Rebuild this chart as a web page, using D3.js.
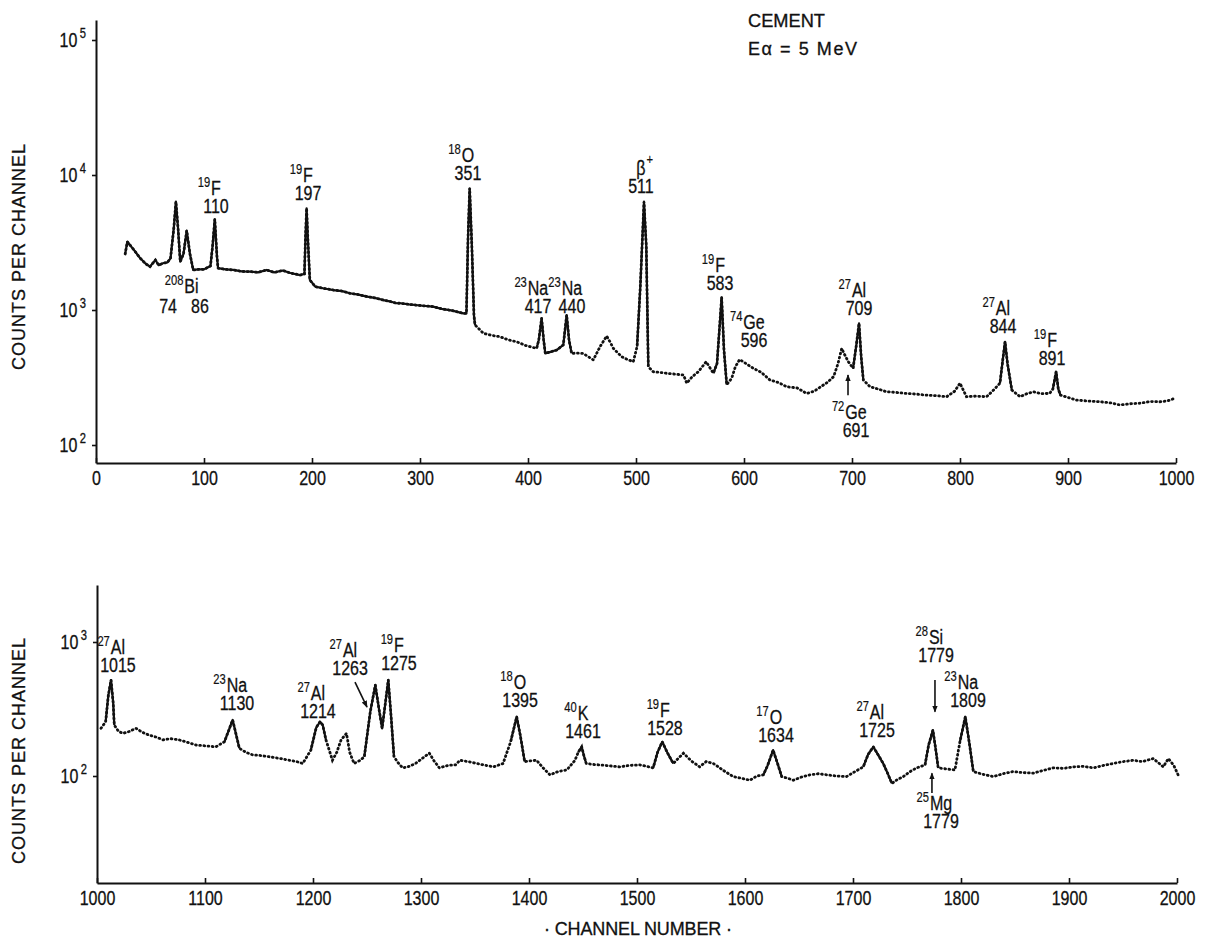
<!DOCTYPE html>
<html>
<head>
<meta charset="utf-8">
<script src="https://cdn.jsdelivr.net/npm/d3@7/dist/d3.min.js"></script>
<style>
  body { margin: 0; background: #fff; }
  svg { display: block; }
  .lbl { font-family: "Liberation Sans", "DejaVu Sans", sans-serif; font-size: 20px; fill: #111; stroke: #111; stroke-width: 0.3; }
  .sup { font-family: "Liberation Sans", "DejaVu Sans", sans-serif; font-size: 14px; fill: #111; stroke: #111; stroke-width: 0.2; }
  .title { font-family: "Liberation Sans", "DejaVu Sans", sans-serif; font-size: 18px; fill: #111; stroke: #111; stroke-width: 0.3; }
</style>
</head>
<body>
<script>
// Gamma spectrum of cement, E_alpha = 5 MeV

// upper panel: channel / counts per channel
const topChannels = [27, 29, 34, 41, 46, 50, 55, 58, 62, 66, 69, 72, 74, 76, 78, 81, 84, 87, 90, 95,
  100, 106, 108, 110, 112, 113, 120, 127, 135, 143, 150, 158, 165, 173, 180, 189, 193, 194, 195, 196,
  198, 203, 210, 220, 228, 235, 243, 251, 258, 266, 272, 278, 282, 290, 300, 312, 320, 330, 340, 343,
  344.5, 346, 348, 350, 351, 358.6, 366, 374, 382, 389.5, 398, 408, 410, 412.6, 414.5, 416, 421, 426.5, 432.7, 435.8,
  438, 440.4, 446, 451, 456, 460.5, 466.7, 472.8, 476, 479, 486.7, 492, 497.5, 501, 504, 507.4, 509.5, 511.4, 516, 522,
  528, 536, 544, 547, 552, 557.7, 565, 571.6, 575, 579.3, 581.5, 584, 588.6, 592, 596, 602, 608.6, 616, 624, 632,
  639.5, 649, 658, 665, 671, 677, 683, 687, 690.5, 693, 696.6, 701, 704, 706.5, 708.5, 710.5, 716.7, 724, 732, 741,
  750.6, 760, 769, 778, 787.7, 795, 800, 806, 815, 824.7, 831, 837, 839.5, 841.7, 844, 848, 855.6, 862, 868, 875,
  883, 886, 889, 891, 893, 900, 908, 918, 930, 940, 948, 958, 967, 976, 985, 992, 999];
const topCounts = [2600, 3200, 2860, 2415, 2200, 2095, 2345, 2150, 2220, 2250, 2415, 4000, 6340, 4000, 2280, 2600, 3870, 2600, 1980, 2000,
  2000, 2120, 3000, 4700, 2500, 2040, 2000, 1980, 1930, 1925, 1900, 1980, 1900, 1960, 1880, 1815, 1850, 3500, 5660, 3600,
  1670, 1490, 1450, 1405, 1380, 1330, 1300, 1257, 1230, 1185, 1160, 1122, 1122, 1100, 1080, 1060, 1020, 990, 944, 944,
  3500, 7960, 3000, 900, 774, 672, 650, 634, 600, 582, 545, 520, 600, 867, 600, 477, 490, 505, 551, 918,
  600, 477, 480, 477, 450, 427, 535, 641, 580, 520, 451, 430, 414, 535, 1500, 6340, 3000, 380, 349, 345,
  340, 335, 330, 287, 320, 349, 414, 340, 400, 1240, 500, 280, 312, 380, 430, 400, 370, 345, 303, 290,
  270, 265, 241, 250, 270, 290, 321, 400, 520, 470, 414, 370, 550, 796, 450, 303, 270, 260, 248, 245,
  241, 238, 234, 232, 228, 250, 287, 228, 230, 228, 255, 287, 420, 582, 400, 255, 228, 240, 248, 240,
  241, 260, 349, 260, 234, 225, 215, 212, 209, 205, 198, 202, 204, 210, 209, 212, 222];
// stretches drawn as a full line (the rest is a dotted trace)
const topSolid = [[27, 352], [406, 442], [500, 512], [570, 586], [700, 712], [836, 849], [885, 893]];

// lower panel
const botChannels = [1003.7, 1008, 1010.5, 1013, 1015, 1016, 1020, 1024, 1030, 1036, 1042, 1048, 1055, 1061, 1068, 1076, 1084, 1092, 1100, 1110,
  1118, 1125.6, 1131.8, 1138, 1144, 1152, 1160, 1170, 1178, 1185, 1190.5, 1198, 1203, 1206.5, 1209, 1212, 1218, 1222, 1226, 1231,
  1234, 1238, 1243, 1247.5, 1253, 1257.7, 1261, 1264, 1267, 1269.7, 1272, 1275, 1279, 1283, 1289, 1295, 1301, 1307.7, 1312, 1317,
  1325, 1332, 1336, 1344, 1351.6, 1360, 1367, 1376, 1383, 1388.6, 1392, 1396, 1402, 1407, 1413, 1419.4, 1427, 1435, 1442.6, 1445.5,
  1448.8, 1451, 1453, 1459, 1465.7, 1475, 1484, 1493, 1502.8, 1509, 1515, 1519, 1523.4, 1528, 1533.6, 1538, 1543, 1550, 1558, 1564,
  1570.7, 1580, 1589, 1597, 1604.6, 1611, 1617, 1621, 1626, 1630, 1634, 1640, 1644.7, 1652, 1660, 1668, 1675.6, 1685, 1694, 1702,
  1709.5, 1714, 1718.8, 1723, 1728, 1732, 1736, 1741, 1746.6, 1753, 1759, 1766.7, 1770, 1774, 1776.5, 1778.9, 1786, 1794.4, 1799, 1804,
  1808, 1811.4, 1820, 1830, 1839, 1848.4, 1857, 1867, 1876, 1885.5, 1895, 1904, 1913, 1922.5, 1932, 1941, 1950, 1959.5, 1968, 1978,
  1987.3, 1992, 1997, 2001];
const botCounts = [227, 254, 400, 520, 350, 240, 215, 208, 215, 227, 212, 202, 195, 186, 190, 186, 178, 170, 168, 165,
  180, 262, 161, 150, 144, 142, 139, 135, 131, 128, 124, 156, 230, 254, 240, 186, 131, 150, 186, 208,
  150, 124, 130, 139, 300, 477, 320, 227, 350, 520, 300, 139, 125, 115, 118, 124, 135, 148, 130, 115,
  120, 121, 131, 128, 124, 120, 117, 124, 180, 277, 200, 128, 130, 131, 115, 102, 108, 111, 131, 150,
  165, 140, 124, 122, 121, 119, 117, 120, 121, 118, 115, 150, 180, 150, 124, 135, 148, 130, 117, 128,
  124, 110, 99, 96, 93, 100, 102, 120, 156, 125, 99, 96, 93, 98, 102, 104, 102, 100, 99, 108,
  117, 145, 165, 145, 124, 105, 88, 94, 99, 108, 115, 121, 170, 220, 160, 115, 113, 111, 180, 277,
  170, 108, 103, 99, 104, 108, 106, 105, 110, 115, 114, 117, 118, 115, 120, 124, 128, 131, 128, 135,
  117, 135, 120, 102];
const botSolid = [[1005, 1017], [1116, 1133], [1197, 1214], [1246, 1277], [1381, 1397], [1443, 1454],
  [1514, 1535], [1616, 1635], [1708, 1737], [1765, 1780], [1795, 1812]];

// peak labels: [mass number, element, energy text, channel, counts] (channel/counts = energy text position)
const topLabels = [
  ["208", "Bi", "", 88.4, 984], ["", "", "74", 66.7, 950], ["", "", "86", 96.3, 950],
  ["19", "F", "110", 111.1, 5230], ["19", "F", "197", 196.3, 6540], ["18", "O", "351", 344.4, 9180],
  ["", "\u03b2", "511", 504.6, 7360], ["23", "Na", "417", 409.3, 950], ["23", "Na", "440", 440.7, 950],
  ["19", "F", "583", 577.8, 1406], ["74", "Ge", "596", 609.3, 532], ["27", "Al", "709", 706.5, 918],
  ["72", "Ge", "691", 703.7, 115], ["27", "Al", "844", 839.8, 676], ["19", "F", "891", 885.2, 392]
];
const botLabels = [
  ["27", "Al", "1015", 1019.4, 597], ["23", "Na", "1130", 1129.6, 311], ["27", "Al", "1214", 1204.6, 271],
  ["27", "Al", "1263", 1234.3, 568], ["19", "F", "1275", 1279.6, 618], ["18", "O", "1395", 1391.7, 327],
  ["40", "K", "1461", 1450, 192], ["19", "F", "1528", 1525.9, 202], ["17", "O", "1634", 1628.7, 180],
  ["27", "Al", "1725", 1722.2, 195], ["28", "Si", "1779", 1776.9, 709], ["23", "Na", "1809", 1806.5, 327],
  ["25", "Mg", "1779", 1781.5, 41]
];
// arrows: [channel from, counts from, channel to, counts to]
const topArrows = [[696.3, 234, 696.3, 330]];
const botArrows = [[1238.9, 502, 1250, 327], [1775.9, 520, 1775.9, 301], [1773.1, 74.7, 1773.1, 105]];

const topXTicks = [0, 100, 200, 300, 400, 500, 600, 700, 800, 900, 1000];
const botXTicks = [1000, 1100, 1200, 1300, 1400, 1500, 1600, 1700, 1800, 1900, 2000];
const topYTicks = [1e2, 1e3, 1e4, 1e5];
const botYTicks = [1e2, 1e3];

const width = 1208, height = 940;
const SX = 0.8; // the figure's lettering is condensed
const svg = d3.select('body').append('svg').attr('width', width).attr('height', height);

svg.append('defs').append('marker')
  .attr('id', 'arrowhead')
  .attr('viewBox', '0 -5 10 10')
  .attr('refX', 9).attr('refY', 0)
  .attr('markerWidth', 7).attr('markerHeight', 8)
  .attr('markerUnits', 'userSpaceOnUse')
  .attr('orient', 'auto')
  .append('path').attr('d', 'M0,-4L10,0L0,4Z').attr('fill', '#111');

// condensed text placed at (x, y)
function narrowText(g, x, y, str, cls, anchor) {
  return g.append('text').attr('class', cls)
    .attr('transform', `translate(${x},${y}) scale(${SX},1)`)
    .attr('text-anchor', anchor || 'middle')
    .text(str);
}

function drawPanel(p) {
  const g = svg.append('g');
  const x = p.x, y = p.y;

  // axes
  const xAxis = g.append('g').attr('transform', `translate(0,${y.range()[0]})`)
    .call(d3.axisBottom(x).tickValues(p.xTicks).tickFormat(d3.format('d')).tickSize(-5).tickSizeOuter(0).tickPadding(8));
  xAxis.selectAll('.tick text')
    .attr('class', 'lbl').attr('fill', null)
    .attr('transform', `scale(${SX},1)`);

  const yAxis = g.append('g').attr('transform', `translate(${x.range()[0]},0)`)
    .call(d3.axisLeft(y).tickValues(p.yTicks).tickSize(4).tickSizeOuter(0).tickPadding(6).tickFormat(''));
  yAxis.selectAll('.tick text').each(function (d) {
    const t = d3.select(this).attr('class', 'lbl').attr('fill', null)
      .attr('x', -10 / SX).attr('transform', `scale(${SX},1)`);
    t.text('10');
    t.append('tspan').attr('dx', 3).attr('dy', -9).attr('font-size', 14).text(Math.round(Math.log10(d)));
  });
  g.selectAll('g').attr('font-family', null).attr('font-size', null);
  g.selectAll('.domain').attr('stroke', '#111').attr('stroke-width', 2);
  g.selectAll('.tick line').attr('stroke', '#111').attr('stroke-width', 1.6);

  const pts = p.ch.map((c, i) => [c, p.counts[i]]);
  const line = d3.line().x(d => x(d[0])).y(d => y(d[1]));

  // dotted trace of the whole spectrum
  g.append('path').datum(pts).attr('d', line)
    .attr('fill', 'none').attr('stroke', '#111').attr('stroke-width', 2.8)
    .attr('stroke-linecap', 'round').attr('stroke-dasharray', '0.8 3.4');

  // solid stretches
  p.solid.forEach(r => {
    const seg = pts.filter(d => d[0] >= r[0] && d[0] <= r[1]);
    g.append('path').datum(seg).attr('d', line)
      .attr('fill', 'none').attr('stroke', '#111').attr('stroke-width', 2.2)
      .attr('stroke-linejoin', 'round');
  });

  // peak labels
  p.labels.forEach(l => {
    const [iso, el, num, c, v] = l;
    const cx = x(c), by = y(v);
    if (num) narrowText(g, cx, by, num, 'lbl');
    if (el) {
      const t = narrowText(g, cx, by - 18, el, 'lbl');
      const w = t.node().getComputedTextLength() * SX;
      if (iso) narrowText(g, cx - w / 2 - 1, by - 26, iso, 'sup', 'end');
      if (el === '\u03b2') narrowText(g, cx + w / 2 + 1, by - 29, '+', 'sup', 'start');
    }
  });

  p.arrows.forEach(a => {
    g.append('line')
      .attr('x1', x(a[0])).attr('y1', y(a[1]))
      .attr('x2', x(a[2])).attr('y2', y(a[3]))
      .attr('stroke', '#111').attr('stroke-width', 1.6)
      .attr('marker-end', 'url(#arrowhead)');
  });

  // axis title
  g.append('text').attr('class', 'title')
    .attr('transform', `translate(25,${p.yLabelMid}) rotate(-90)`)
    .attr('text-anchor', 'middle')
    .attr('textLength', 226).attr('lengthAdjust', 'spacing')
    .text('COUNTS PER CHANNEL');
}

drawPanel({
  x: d3.scaleLinear().domain([0, 1000]).range([96, 1176]),
  y: d3.scaleLog().domain([Math.pow(10, 2 - 18 / 135), Math.pow(10, 5 + 20 / 135)]).range([463, 20]),
  ch: topChannels, counts: topCounts, solid: topSolid,
  labels: topLabels, arrows: topArrows,
  xTicks: topXTicks, yTicks: topYTicks, yLabelMid: 257
});

drawPanel({
  x: d3.scaleLinear().domain([1000, 2000]).range([97, 1177]),
  y: d3.scaleLog().domain([Math.pow(10, 2 - 107 / 134), Math.pow(10, 3 + 57 / 134)]).range([883, 585]),
  ch: botChannels, counts: botCounts, solid: botSolid,
  labels: botLabels, arrows: botArrows,
  xTicks: botXTicks, yTicks: botYTicks, yLabelMid: 751
});

// sample / beam note
svg.append('text').attr('class', 'title').attr('x', 748).attr('y', 27)
  .attr('textLength', 77).attr('lengthAdjust', 'spacingAndGlyphs').text('CEMENT');
svg.append('text').attr('class', 'title').attr('x', 748).attr('y', 55)
  .attr('textLength', 109).attr('lengthAdjust', 'spacing').text('E\u03b1 = 5 MeV');

svg.append('text').attr('class', 'title').attr('x', 638).attr('y', 935)
  .attr('text-anchor', 'middle').attr('font-size', 17)
  .attr('textLength', 188).attr('lengthAdjust', 'spacing')
  .text('\u00b7 CHANNEL  NUMBER \u00b7');
</script>
</body>
</html>
